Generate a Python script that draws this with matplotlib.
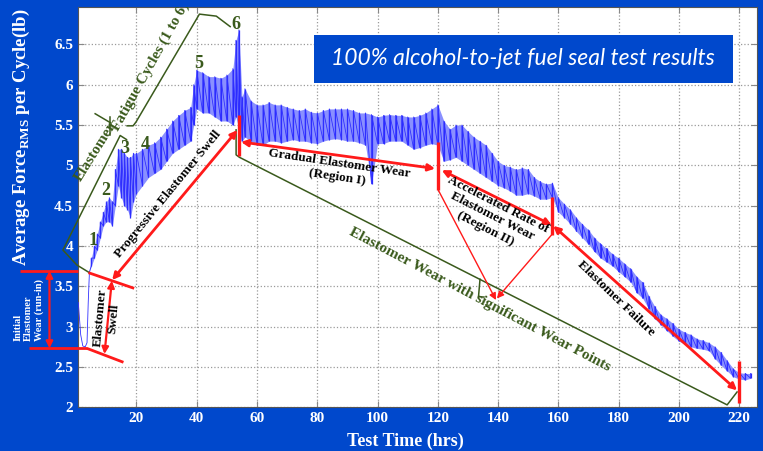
import matplotlib
matplotlib.use("Agg")
import matplotlib.pyplot as plt
import numpy as np
from matplotlib.patches import Rectangle

plt.rcParams['font.family'] = 'Liberation Serif'
plt.rcParams['mathtext.fontset'] = 'custom'
plt.rcParams['mathtext.rm'] = 'Liberation Serif'
plt.rcParams['mathtext.bf'] = 'Liberation Serif:bold'

# force band: time (hrs), lower and upper edge (lb)
test_hrs = [0.7, 1.5, 2.2, 3.0, 3.6, 4.0, 4.4, 5, 6, 7, 8, 9, 10, 11, 12, 13, 14, 15, 16, 17,
            18, 19, 20, 22, 24, 26, 28, 30, 32, 34, 36, 38, 39, 40, 42, 44, 46, 48, 50, 52,
            53, 54, 55, 56, 58, 60, 62, 64, 66, 68, 70, 72, 74, 76, 78, 80, 82, 84, 86, 88,
            90, 92, 94, 96, 98, 100, 102, 104, 106, 108, 110, 112, 114, 116, 118, 120, 122,
            124, 126, 128, 130, 132, 134, 136, 138, 140, 142, 144, 146, 148, 150, 152, 154,
            156, 158, 160, 162, 164, 166, 168, 170, 172, 174, 176, 178, 180, 182, 184, 186,
            188, 190, 192, 194, 196, 198, 200, 202, 204, 206, 208, 210, 212, 214, 216, 218,
            220, 222, 223.8]
force_lo = [3.3, 2.9, 2.76, 2.75, 2.8, 3.3, 3.68, 3.75, 3.85, 3.95, 4.1, 4.25, 4.3, 4.3, 4.25, 4.5, 4.75, 4.6, 4.5, 4.45,
            4.35, 4.55, 4.65, 4.75, 4.85, 4.9, 4.95, 5.05, 5.15, 5.2, 5.25, 5.3, 5.5, 5.7, 5.65, 5.65, 5.6, 5.55, 5.55, 5.5,
            5.6, 5.45, 5.3, 5.35, 5.3, 5.25, 5.25, 5.3, 5.3, 5.28, 5.3, 5.32, 5.3, 5.3, 5.28, 5.27, 5.3, 5.32, 5.33, 5.32,
            5.3, 5.3, 5.28, 5.25, 4.77, 5.27, 5.27, 5.3, 5.3, 5.3, 5.25, 5.2, 5.22, 5.25, 5.27, 5.25, 5.05,
            5.07, 5.1, 5.05, 5.0, 4.95, 4.9, 4.85, 4.8, 4.75, 4.72, 4.68, 4.63, 4.63, 4.65, 4.62, 4.58,
            4.58, 4.6, 4.42, 4.35, 4.27, 4.18, 4.1, 4.02, 3.93, 3.85, 3.8, 3.75, 3.68, 3.62, 3.55, 3.42,
            3.35, 3.22, 3.1, 3.02, 2.95, 2.88, 2.82, 2.78, 2.75, 2.73, 2.72, 2.7, 2.6, 2.52, 2.45, 2.38,
            2.35, 2.34, 2.36]
force_hi = [3.3, 2.9, 2.76, 2.75, 2.8, 3.3, 3.68, 3.85, 4.0, 4.15, 4.3, 4.42, 4.55, 4.6, 4.55, 4.95, 5.2, 5.2, 5.15, 5.1,
            5.1, 5.15, 5.15, 5.2, 5.25, 5.28, 5.35, 5.45, 5.55, 5.62, 5.68, 5.72, 6.0, 6.18, 6.15, 6.1, 6.1, 6.08, 6.12, 6.2,
            6.55, 6.68, 5.85, 5.95, 5.8, 5.75, 5.75, 5.78, 5.75, 5.75, 5.72, 5.7, 5.68, 5.7, 5.66, 5.65, 5.68, 5.7, 5.7, 5.7,
            5.7, 5.68, 5.65, 5.65, 5.63, 5.6, 5.62, 5.63, 5.62, 5.62, 5.6, 5.6, 5.62, 5.65, 5.7, 5.75, 5.55,
            5.45, 5.5, 5.5, 5.42, 5.35, 5.3, 5.25, 5.15, 5.05, 5.0, 4.98, 4.95, 4.97, 4.95, 4.85, 4.8,
            4.77, 4.78, 4.6, 4.52, 4.45, 4.35, 4.27, 4.2, 4.1, 4.03, 3.97, 3.9, 3.85, 3.78, 3.72, 3.62,
            3.55, 3.38, 3.25, 3.15, 3.1, 3.04, 2.97, 2.93, 2.9, 2.85, 2.83, 2.8, 2.75, 2.68, 2.58, 2.48,
            2.43, 2.42, 2.42]

x_ticks = [20, 40, 60, 80, 100, 120, 140, 160, 180, 200, 220]
y_ticks = [2, 2.5, 3, 3.5, 4, 4.5, 5, 5.5, 6, 6.5]
y_tick_labels = ['2', '2.5', '3', '3.5', '4', '4.5', '5', '5.5', '6', '6.5']

bg = '#0048cc'
green = '#3a5a1c'
red = '#ff1a1a'

fig = plt.figure(figsize=(7.63, 4.51), dpi=100, facecolor=bg)
ax = fig.add_axes([0.1022, 0.0969, 0.8895, 0.887])
ax.set_facecolor('white')

# blue force band
t = np.array(test_hrs)
lo = np.array(force_lo)
hi = np.array(force_hi)
ax.fill_between(t, lo, hi, color='#8a90ff', lw=0, zorder=2)
ax.vlines(t, lo, hi, color='#2a2aff', lw=0.9, zorder=3)
ax.plot(np.repeat(t, 2), np.column_stack([lo, hi]).ravel(), color='#3030ff', lw=0.6, zorder=3)

ax.set_xlim(0.6, 225.8)
ax.set_ylim(2, 6.96)
ax.set_xticks(x_ticks)
ax.set_yticks(y_ticks)
ax.set_yticklabels(y_tick_labels)
ax.grid(True, ls=':', color='#9a9a9a', lw=0.9)
ax.tick_params(direction='in', top=True, right=True, color='#888888', length=4,
               labelcolor='white', labelsize=11)
for lab in ax.get_xticklabels() + ax.get_yticklabels():
    lab.set_fontweight('bold')
for s in ax.spines.values():
    s.set_color('#555555')

ax.set_xlabel('Test Time (hrs)', color='white', fontsize=13, fontweight='bold')
ax.xaxis.set_label_coords(0.483, -0.064)
ax.set_ylabel(r'Average Force$_{\mathbf{RMS}}$ per Cycle(lb)', color='white', fontsize=13.5, fontweight='bold')
ax.yaxis.set_label_coords(-0.068, 0.676)

# title box
ax.add_patch(Rectangle((0.3477, 0.811), 0.617, 0.12, transform=ax.transAxes,
                       facecolor=bg, edgecolor='none', zorder=6))
ax.text(0.656, 0.871, '100% alcohol-to-jet fuel seal test results', transform=ax.transAxes,
        ha='center', va='center', color='white', fontsize=16.5, style='italic',
        family='Lato', zorder=7)


def red_line(xs, ys, lw=2.0):
    ax.plot(xs, ys, color=red, lw=lw, clip_on=False, zorder=5, solid_capstyle='butt')


def red_arrow(p0, p1, style='<|-|>', lw=2.0):
    ax.annotate('', xy=p1, xytext=p0, annotation_clip=False,
                arrowprops=dict(arrowstyle=style, color=red, lw=lw, mutation_scale=10,
                                shrinkA=0, shrinkB=0), zorder=5)


def green_line(xs, ys):
    ax.plot(xs, ys, color=green, lw=1.1, clip_on=False, zorder=4)


# run-in and swell markers
red_line([-18.6, 0.66], [3.693, 3.693])
red_line([4.08, 19.24], [3.669, 3.475])
red_line([-15.5, 3.55], [2.731, 2.731])
red_line([3.55, 15.69], [2.731, 2.558])
red_arrow((-8.86, 3.693), (-8.86, 2.731), lw=1.6)
red_arrow((11.84, 3.569), (9.39, 2.661), lw=1.6)
red_arrow((11.94, 3.578), (53.5, 5.437))

# wear regions
red_line([54.0, 54.0], [5.62, 5.12], lw=2.4)
red_arrow((54.7, 5.29), (119.1, 4.96))
red_line([120.2, 120.2], [5.29, 4.69], lw=2.4)
red_arrow((121.3, 4.94), (157.8, 4.26))
red_line([157.8, 157.8], [4.61, 4.14], lw=2.4)
red_arrow((158.3, 4.25), (219.3, 2.21))
red_line([219.8, 219.8], [2.57, 2.05], lw=2.4)
red_arrow((120.2, 4.69), (139.3, 3.33), style='-|>', lw=1.0)
red_arrow((157.8, 4.14), (139.6, 3.35), style='-|>', lw=1.0)

# green brackets
green_line([4.4, 0.2, -4.4, 14.6, 16.7], [3.669, 3.765, 3.95, 5.37, 5.32])
green_line([16.9, 18.9, 19.9, 40.9, 46.5, 51.1], [5.49, 5.49, 5.54, 6.875, 6.85, 6.72])
green_line([6.3, 11.3], [5.64, 5.53])
green_line([11.3, 11.3], [5.60, 5.38])
green_line([53.07, 53.07, 54.16, 216.0, 219.3], [5.44, 5.13, 5.10, 2.03, 2.19])
green_line([134.0, 133.5, 135.3], [3.588, 3.371, 3.367])

# labels
for s, x, y in [('1', 5.54, 4.074), ('2', 9.72, 4.694), ('3', 16.02, 5.21),
                ('4', 22.89, 5.264), ('5', 40.8, 6.264), ('6', 52.97, 6.751)]:
    ax.text(x, y, s, color=green, fontsize=13, fontweight='bold', ha='center', va='center', zorder=6)

ax.text(6.3, 5.166, 'Elastomer', color=green, fontsize=11, fontweight='bold', rotation=58,
        rotation_mode='anchor', ha='center', va='center', clip_on=False, zorder=6)
ax.text(24.8, 6.23, 'Fatigue Cycles (1 to 6)', color=green, fontsize=11, fontweight='bold',
        rotation=60.8, rotation_mode='anchor', ha='center', va='center', clip_on=True, zorder=6)
ax.text(30.5, 4.645, 'Progressive Elastomer Swell', color='black', fontsize=9.5, fontweight='bold',
        rotation=50.7, rotation_mode='anchor', ha='center', va='center', zorder=6)
ax.text(10.28, 3.108, 'Elastomer\nSwell', color='black', fontsize=9.5, fontweight='bold',
        rotation=85, rotation_mode='anchor', ha='center', va='center', zorder=6)
ax.text(-15.75, 3.207, 'Initial\nElastomer\nWear (run-in)', color='white', fontsize=7.5,
        fontweight='bold', rotation=90, ha='center', va='center', multialignment='left',
        clip_on=False, zorder=6)
ax.text(86.9, 4.94, 'Gradual Elastomer Wear\n(Region I)', color='black', fontsize=9.5,
        fontweight='bold', rotation=-8.4, rotation_mode='anchor', ha='center', va='center', zorder=6)
ax.text(138.0, 4.363, 'Accelerated Rate of\nElastomer Wear\n(Region II)', color='black',
        fontsize=9.5, fontweight='bold', rotation=-27, rotation_mode='anchor',
        ha='center', va='center', zorder=6)
ax.text(179.1, 3.355, 'Elastomer Failure', color='black', fontsize=9.5, fontweight='bold',
        rotation=-44, rotation_mode='anchor', ha='center', va='center', zorder=6)
ax.text(134.0, 3.33, 'Elastomer Wear with significant Wear Points', color=green, fontsize=11,
        fontweight='bold', rotation=-27.8, rotation_mode='anchor', ha='center', va='center', zorder=6)

fig.savefig('out.png', dpi=100, facecolor=bg)
